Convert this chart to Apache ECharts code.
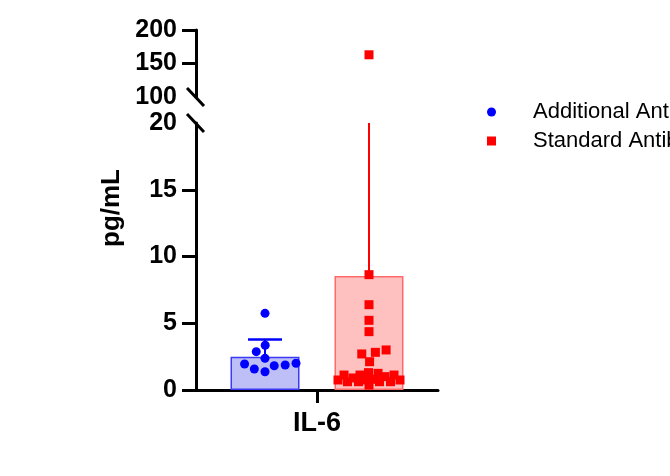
<!DOCTYPE html>
<html><head><meta charset="utf-8">
<script src="https://cdn.jsdelivr.net/npm/echarts@6/dist/echarts.min.js"></script>
<style>html,body{margin:0;padding:0;background:#fff;overflow:hidden}#c{width:670px;height:476px}</style>
</head><body><div id="c"></div>
<script>
// ---------------- data ----------------
const categories = ['IL-6'];
const seriesNames = ['Additional Antibiotics', 'Standard Antibiotics'];
const additionalValues = [5.74, 3.35, 2.87, 2.37, 1.57, 1.95, 1.82, 1.87, 2.0, 1.37];
const standardValues = [163, 8.64, 6.39, 5.22, 4.37, 3.0, 2.82, 2.7, 2.12,
  1.25, 1.3, 0.62, 1.0, 0.75, 0.62, 0.37, 0.75, 1.12, 0.62, 1.12, 0.62, 0.75, 1.12, 0.9, 0.8];
const barMeans = [2.49, 8.54];
const barSD = [1.29, 32.3];
const lowerTicks = [0, 5, 10, 15, 20];
const upperTicks = [100, 150, 200];
const axisTitle = 'pg/mL';

// ---------------- style / layout ----------------
const FONT = "'Liberation Sans', Arial, Helvetica, sans-serif";
const BLUE = '#0000ff', RED = '#ff0000';
const COLORS = [BLUE, RED];
const BAR_W = 69, BAR_GAP = 35 / 69;
const GROUP_OFFSETS = [-BAR_W * (1 + BAR_GAP) / 2, BAR_W * (1 + BAR_GAP) / 2];
const LEFT = 196, WIDTH = 242;
const SWARM_D = 11, SWARM_HALF = 31;
const lowMax = lowerTicks[lowerTicks.length - 1];
const upMin = upperTicks[0];

const chart = echarts.init(document.getElementById('c'), null, {renderer: 'canvas'});

const axisLineStyle = {show: true, lineStyle: {color: '#000', width: 3}};
const labelStyle = {color: '#000', fontFamily: FONT, fontWeight: 'bold', fontSize: 25, margin: 19};

function yAxisDef(gi, ticks, tickVals) {
  return {
    gridIndex: gi, type: 'value', min: ticks[0], max: ticks[ticks.length - 1],
    interval: ticks[1] - ticks[0],
    axisLine: axisLineStyle,
    axisTick: {show: true, length: 14, customValues: tickVals, lineStyle: {color: '#000', width: 3}},
    axisLabel: Object.assign({customValues: ticks}, labelStyle),
    splitLine: {show: false}
  };
}

function scatterSeries(name, gi, vals, symbol, color) {
  return {
    name: name, type: 'scatter', xAxisIndex: gi, yAxisIndex: gi,
    symbol: symbol, symbolSize: 9, z: 10,
    itemStyle: {color: color, opacity: 1},
    emphasis: {disabled: true},
    data: vals.map(v => ({value: [0, v]}))
  };
}

const addLow = additionalValues.filter(v => v <= lowMax);
const addHigh = additionalValues.filter(v => v >= upMin);
const stdLow = standardValues.filter(v => v <= lowMax);
const stdHigh = standardValues.filter(v => v >= upMin);

const option = {
  animation: false,
  backgroundColor: '#fff',
  grid: [
    {left: LEFT, top: 30, width: WIDTH, height: 67},
    {left: LEFT, top: 123, width: WIDTH, height: 267}
  ],
  xAxis: [
    {gridIndex: 0, type: 'category', data: categories, show: false},
    {gridIndex: 1, type: 'category', data: categories,
     axisLine: axisLineStyle,
     axisTick: {show: true, alignWithLabel: true, length: 13, lineStyle: {color: '#000', width: 3}},
     axisLabel: {color: '#000', fontFamily: FONT, fontWeight: 'bold', fontSize: 27, margin: 20}}
  ],
  yAxis: [
    yAxisDef(0, upperTicks, upperTicks.slice(1)),
    yAxisDef(1, lowerTicks, lowerTicks.slice(0, -1))
  ],
  legend: {
    orient: 'vertical', left: 482, top: 96, itemWidth: 9, itemHeight: 9, itemGap: 7,
    selectedMode: false,
    data: [{name: seriesNames[0], icon: 'circle'}, {name: seriesNames[1], icon: 'rect'}],
    textStyle: {color: '#000', fontFamily: FONT, fontSize: 22, lineHeight: 22, padding: [0, 0, 0, 32]}
  },
  series: [
    {name: 'barA', type: 'bar', xAxisIndex: 1, yAxisIndex: 1, barWidth: BAR_W,
     barGap: (BAR_GAP * 100).toFixed(1) + '%', z: 2,
     itemStyle: {color: '#bfbff7', borderColor: '#3b3bf5', borderWidth: 1.5},
     data: [barMeans[0]]},
    {name: 'barS', type: 'bar', xAxisIndex: 1, yAxisIndex: 1, barWidth: BAR_W, z: 2,
     itemStyle: {color: '#ffc0c0', borderColor: '#ff6a6a', borderWidth: 1.5},
     data: [barMeans[1]]},
    {name: 'err', type: 'custom', xAxisIndex: 1, yAxisIndex: 1, z: 5, clip: false,
     data: barMeans.map((m, i) => [0, m, barSD[i], i]),
     encode: {x: 0, y: 1},
     renderItem: function (params, api) {
       const g = api.value(3);
       const base = api.coord([api.value(0), api.value(1)]);
       const top = api.coord([api.value(0), api.value(1) + api.value(2)]);
       const cs = params.coordSys;
       const x = base[0] + GROUP_OFFSETS[g];
       const yTop = Math.max(top[1], cs.y);
       const ch = [{type: 'line', shape: {x1: x, y1: base[1], x2: x, y2: yTop},
                    style: {stroke: COLORS[g], lineWidth: 2}}];
       if (top[1] >= cs.y) {
         ch.push({type: 'line', shape: {x1: x - 17, y1: top[1], x2: x + 17, y2: top[1]},
                  style: {stroke: COLORS[g], lineWidth: 2.5}});
       }
       return {type: 'group', children: ch};
     }},
    scatterSeries(seriesNames[0], 1, addLow, 'circle', BLUE),
    scatterSeries(seriesNames[0], 0, addHigh, 'circle', BLUE),
    scatterSeries(seriesNames[1], 1, stdLow, 'rect', RED),
    scatterSeries(seriesNames[1], 0, stdHigh, 'rect', RED)
  ]
};
chart.setOption(option);

// --------- beeswarm layout (width-capped) computed from the axis scale ---------
function swarm(ys, D, half) {
  const order = ys.map((y, i) => i).sort((a, b) => ys[b] - ys[a]);
  const placed = [], xs = new Array(ys.length).fill(0);
  for (const i of order) {
    const y = ys[i], iv = [];
    for (const p of placed) {
      const dy = Math.abs(p.y - y);
      if (dy < D) { const h = Math.sqrt(D * D - dy * dy); iv.push([p.x - h, p.x + h]); }
    }
    const cands = [0];
    iv.forEach(v => cands.push(v[0], v[1]));
    const free = cands.filter(c => Math.abs(c) <= half + 1e-6 &&
      iv.every(v => c <= v[0] + 1e-6 || c >= v[1] - 1e-6));
    let best;
    if (free.length) {
      free.sort((a, b) => Math.abs(a) - Math.abs(b));
      best = free[0];
    } else {
      // no free slot inside the bar: take the spot farthest from its neighbours
      let bestScore = -1;
      for (let c = -half; c <= half + 1e-6; c += 0.5) {
        let m = Infinity;
        for (const p of placed) m = Math.min(m, Math.hypot(p.x - c, p.y - y));
        if (m > bestScore + 1e-6) { bestScore = m; best = c; }
      }
    }
    xs[i] = best; placed.push({x: best, y: y});
  }
  return xs;
}
function swarmData(gi, vals, g) {
  const ys = vals.map(v => chart.convertToPixel({yAxisIndex: gi}, v));
  const xs = swarm(ys, SWARM_D, SWARM_HALF);
  return vals.map((v, i) => ({value: [0, v], symbolOffset: [GROUP_OFFSETS[g] + xs[i], 0]}));
}
const series = option.series;
series[3].data = swarmData(1, addLow, 0);
series[4].data = swarmData(0, addHigh, 0);
series[5].data = swarmData(1, stdLow, 1);
series[6].data = swarmData(0, stdHigh, 1);

// axis break marks, positioned from the axes
const yBreakUp = chart.convertToPixel({yAxisIndex: 0}, upMin);
const yBreakLow = chart.convertToPixel({yAxisIndex: 1}, lowMax);
const brk = y => ({type: 'line', z: 20,
  shape: {x1: LEFT - 9, y1: y - 9, x2: LEFT + 8, y2: y + 9},
  style: {stroke: '#000', lineWidth: 3}});
option.graphic = [
  brk(yBreakUp), brk(yBreakLow),
  {type: 'text', x: 112, y: 208, rotation: Math.PI / 2, z: 20,
   style: {text: axisTitle, fill: '#000', font: 'bold 26px ' + FONT, align: 'center', verticalAlign: 'middle'}}
];
chart.setOption(option, true);
</script>
</body></html>
